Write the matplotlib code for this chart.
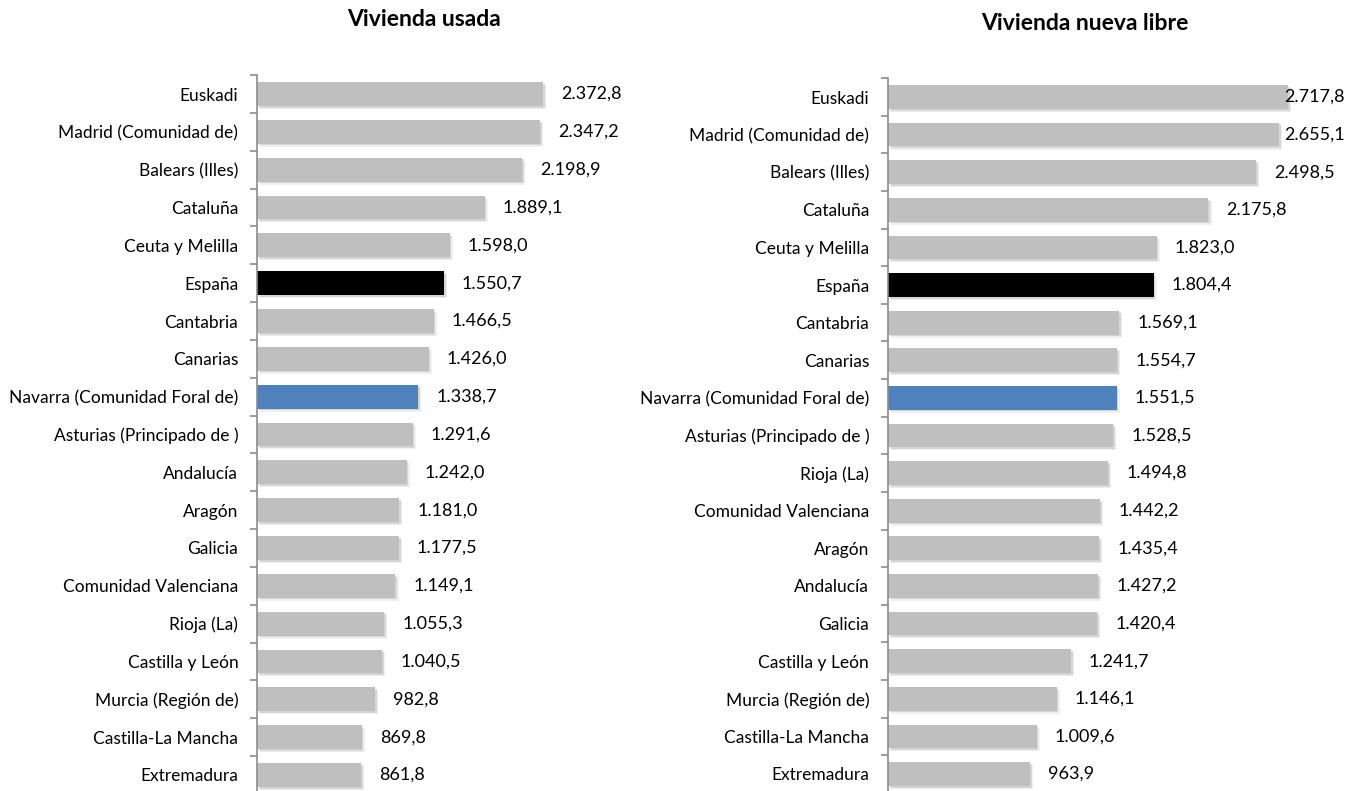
import numpy as np
import matplotlib
matplotlib.use('Agg')
import matplotlib.pyplot as plt
import matplotlib.patheffects as pe
from matplotlib.transforms import offset_copy

plt.rcParams['font.family'] = ['Lato', 'DejaVu Sans']

# data
usada_cat = ['Euskadi', 'Madrid (Comunidad de)', 'Balears (Illes)', 'Cataluña', 'Ceuta y Melilla',
             'España', 'Cantabria', 'Canarias', 'Navarra (Comunidad Foral de)',
             'Asturias (Principado de )', 'Andalucía', 'Aragón', 'Galicia', 'Comunidad Valenciana',
             'Rioja (La)', 'Castilla y León', 'Murcia (Región de)', 'Castilla-La Mancha', 'Extremadura']
usada_val = [2372.8, 2347.2, 2198.9, 1889.1, 1598.0, 1550.7, 1466.5, 1426.0, 1338.7, 1291.6,
             1242.0, 1181.0, 1177.5, 1149.1, 1055.3, 1040.5, 982.8, 869.8, 861.8]

nueva_cat = ['Euskadi', 'Madrid (Comunidad de)', 'Balears (Illes)', 'Cataluña', 'Ceuta y Melilla',
             'España', 'Cantabria', 'Canarias', 'Navarra (Comunidad Foral de)',
             'Asturias (Principado de )', 'Rioja (La)', 'Comunidad Valenciana', 'Aragón', 'Andalucía',
             'Galicia', 'Castilla y León', 'Murcia (Región de)', 'Castilla-La Mancha', 'Extremadura']
nueva_val = [2717.8, 2655.1, 2498.5, 2175.8, 1823.0, 1804.4, 1569.1, 1554.7, 1551.5, 1528.5,
             1494.8, 1442.2, 1435.4, 1427.2, 1420.4, 1241.7, 1146.1, 1009.6, 963.9]

GRAY = '#BFBFBF'
BLACK = '#000000'
BLUE = '#4F81BD'

W, H = 1361, 791
fig = plt.figure(figsize=(W / 100, H / 100), dpi=100)


def px_axes(l, t, r, b):
    return fig.add_axes([l / W, 1 - b / H, (r - l) / W, (b - t) / H])


def fmt(v):
    s = f'{v:,.1f}'
    return s.replace(',', 'X').replace('.', ',').replace('X', '.')


def panel(ax, cats, vals, xmax, title, title_xy):
    n = len(cats)
    y = np.arange(n)
    colors = [BLACK if c == 'España' else BLUE if c.startswith('Navarra') else GRAY for c in cats]
    bars = ax.barh(y, vals, height=0.63, color=colors, linewidth=0)
    # soft drop shadow like the excel bars
    for b in bars:
        b.set_path_effects([pe.SimplePatchShadow(offset=(2.2, -2.2), shadow_rgbFace='#9a9a9a', alpha=0.15),
                            pe.SimplePatchShadow(offset=(1.2, -1.2), shadow_rgbFace='#8a8a8a', alpha=0.25),
                            pe.Normal()])
    ax.set_xlim(0, xmax)
    ax.set_ylim(n - 0.5, -0.5)
    for s in ['top', 'right', 'bottom']:
        ax.spines[s].set_visible(False)
    ax.spines['left'].set_color('#8C8C8C')
    ax.spines['left'].set_linewidth(1.2)
    ax.set_xticks([])
    ax.set_yticks(np.arange(-0.5, n, 1.0))
    ax.set_yticklabels([])
    ax.tick_params(axis='y', which='major', length=5, color='#8C8C8C', width=1.2, direction='out')
    ax.set_yticks(y, minor=True)
    ax.set_yticklabels(cats, minor=True, fontsize=12.5)
    ax.tick_params(axis='y', which='minor', length=0, pad=13.5)

    r = fig.canvas.get_renderer()
    ax_right = ax.get_window_extent(r).x1
    for i, v in enumerate(vals):
        tr = offset_copy(ax.transData, fig=fig, x=13, y=0, units='points')
        t = ax.text(v, i, fmt(v), transform=tr, ha='left', va='center', fontsize=13, clip_on=False)
        if t.get_window_extent(r).x1 > ax_right:
            t.remove()
            ax.text(1.0, i, fmt(v), transform=ax.get_yaxis_transform(), ha='right', va='center',
                    fontsize=13, clip_on=False)
    fig.text(title_xy[0] / W, 1 - title_xy[1] / H, title, ha='center', va='center',
             fontsize=16.5, fontweight='bold')


ax1 = px_axes(257, 75.1, 640, 793.9)
panel(ax1, usada_cat, usada_val, (640 - 257) / 0.1205, 'Vivienda usada', (424, 20))

ax2 = px_axes(888, 78.2, 1345, 792.8)
panel(ax2, nueva_cat, nueva_val, (1345 - 888) / 0.1473, 'Vivienda nueva libre', (1085, 24))

fig.savefig('out.png', dpi=100)
